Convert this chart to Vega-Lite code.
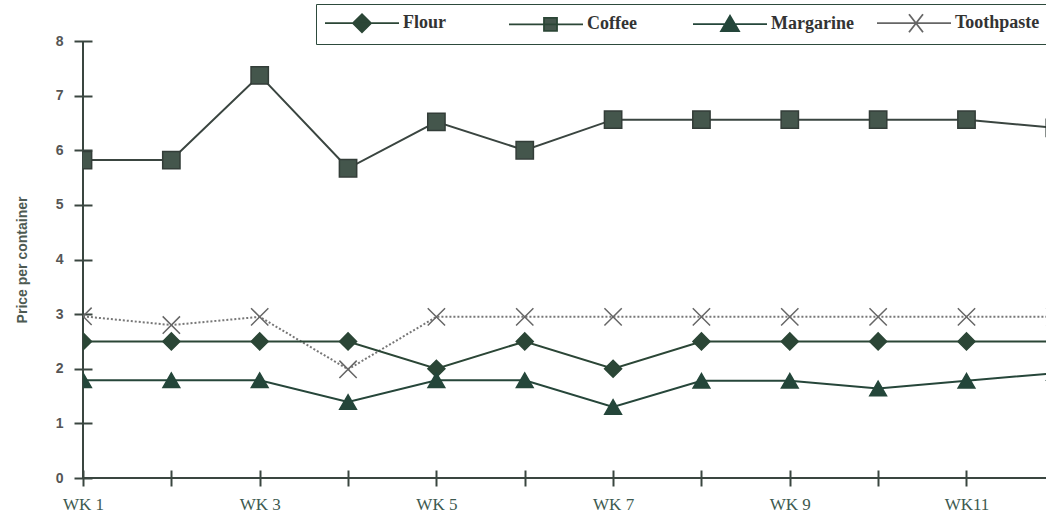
{
  "$schema": "https://vega.github.io/schema/vega-lite/v6.json",
  "width": 963,
  "height": 437,
  "autosize": {"type": "none"},
  "padding": {"left": 83, "top": 41, "right": 0, "bottom": 44},
  "background": "white",
  "config": {"view": {"stroke": null}},
  "data": {
    "values": [
      {"week": 1, "item": "Flour", "price": 2.5},
      {"week": 2, "item": "Flour", "price": 2.5},
      {"week": 3, "item": "Flour", "price": 2.5},
      {"week": 4, "item": "Flour", "price": 2.5},
      {"week": 5, "item": "Flour", "price": 2.0},
      {"week": 6, "item": "Flour", "price": 2.5},
      {"week": 7, "item": "Flour", "price": 2.0},
      {"week": 8, "item": "Flour", "price": 2.5},
      {"week": 9, "item": "Flour", "price": 2.5},
      {"week": 10, "item": "Flour", "price": 2.5},
      {"week": 11, "item": "Flour", "price": 2.5},
      {"week": 12, "item": "Flour", "price": 2.5},
      {"week": 1, "item": "Coffee", "price": 5.82},
      {"week": 2, "item": "Coffee", "price": 5.82},
      {"week": 3, "item": "Coffee", "price": 7.37},
      {"week": 4, "item": "Coffee", "price": 5.67},
      {"week": 5, "item": "Coffee", "price": 6.52},
      {"week": 6, "item": "Coffee", "price": 6.0},
      {"week": 7, "item": "Coffee", "price": 6.56},
      {"week": 8, "item": "Coffee", "price": 6.56},
      {"week": 9, "item": "Coffee", "price": 6.56},
      {"week": 10, "item": "Coffee", "price": 6.56},
      {"week": 11, "item": "Coffee", "price": 6.56},
      {"week": 12, "item": "Coffee", "price": 6.41},
      {"week": 1, "item": "Margarine", "price": 1.79},
      {"week": 2, "item": "Margarine", "price": 1.79},
      {"week": 3, "item": "Margarine", "price": 1.79},
      {"week": 4, "item": "Margarine", "price": 1.39},
      {"week": 5, "item": "Margarine", "price": 1.79},
      {"week": 6, "item": "Margarine", "price": 1.79},
      {"week": 7, "item": "Margarine", "price": 1.3},
      {"week": 8, "item": "Margarine", "price": 1.78},
      {"week": 9, "item": "Margarine", "price": 1.78},
      {"week": 10, "item": "Margarine", "price": 1.64},
      {"week": 11, "item": "Margarine", "price": 1.78},
      {"week": 12, "item": "Margarine", "price": 1.92},
      {"week": 1, "item": "Toothpaste", "price": 2.96},
      {"week": 2, "item": "Toothpaste", "price": 2.8},
      {"week": 3, "item": "Toothpaste", "price": 2.95},
      {"week": 4, "item": "Toothpaste", "price": 1.99},
      {"week": 5, "item": "Toothpaste", "price": 2.95},
      {"week": 6, "item": "Toothpaste", "price": 2.95},
      {"week": 7, "item": "Toothpaste", "price": 2.95},
      {"week": 8, "item": "Toothpaste", "price": 2.95},
      {"week": 9, "item": "Toothpaste", "price": 2.95},
      {"week": 10, "item": "Toothpaste", "price": 2.95},
      {"week": 11, "item": "Toothpaste", "price": 2.95},
      {"week": 12, "item": "Toothpaste", "price": 2.95}
    ]
  },
  "layer": [
    {
      "data": {"values": [{}]},
      "mark": {"type": "rule", "color": "#3a4640", "strokeWidth": 2},
      "encoding": {
        "x": {
          "datum": 1,
          "type": "quantitative",
          "scale": {"domain": [1, 11.9], "nice": false, "zero": false},
          "axis": {
            "values": [1, 2, 3, 4, 5, 6, 7, 8, 9, 10, 11],
            "domain": false,
            "grid": false,
            "tickSize": 16,
            "offset": -8,
            "tickColor": "#3a4640",
            "tickWidth": 2,
            "labelExpr": "datum.value % 2 == 1 ? (datum.value < 10 ? 'WK ' + datum.value : 'WK' + datum.value) : ''",
            "labelFont": "Liberation Serif",
            "labelFontSize": 17,
            "labelColor": "#3d5a50",
            "labelPadding": 10,
            "labelAngle": 0,
            "labelOverlap": false,
            "labelBound": false,
            "labelFlush": false,
            "title": null
          }
        },
        "y": {
          "datum": 0,
          "type": "quantitative",
          "scale": {"domain": [0, 8], "nice": false},
          "axis": {
            "values": [0, 1, 2, 3, 4, 5, 6, 7, 8],
            "domain": false,
            "grid": false,
            "tickSize": 18,
            "offset": -9,
            "tickColor": "#3a4640",
            "tickWidth": 2,
            "labelFont": "Liberation Sans",
            "labelFontWeight": "bold",
            "labelFontSize": 14,
            "labelColor": "#555555",
            "labelPadding": 11,
            "labelFlush": false,
            "title": "Price per container",
            "titleFont": "Liberation Sans",
            "titleFontWeight": "bold",
            "titleFontSize": 14,
            "titleColor": "#4d5a52",
            "titlePadding": 26
          }
        },
        "y2": {"datum": 8}
      }
    },
    {
      "data": {"values": [{}]},
      "mark": {"type": "rule", "color": "#3a4640", "strokeWidth": 2},
      "encoding": {
        "y": {"datum": 0, "type": "quantitative"},
        "x": {"datum": 1, "type": "quantitative"},
        "x2": {"datum": 11.9}
      }
    },
    {
      "transform": [{"filter": "datum.item === 'Toothpaste'"}],
      "mark": {"type": "line", "clip": true, "stroke": "#777777", "strokeWidth": 2, "strokeDash": [2, 2]},
      "encoding": {
        "x": {"field": "week", "type": "quantitative"},
        "y": {"field": "price", "type": "quantitative"}
      }
    },
    {
      "transform": [{"filter": "datum.item === 'Coffee'"}],
      "mark": {"type": "line", "clip": true, "stroke": "#3a4540", "strokeWidth": 2},
      "encoding": {
        "x": {"field": "week", "type": "quantitative"},
        "y": {"field": "price", "type": "quantitative"}
      }
    },
    {
      "transform": [{"filter": "datum.item === 'Flour'"}],
      "mark": {"type": "line", "clip": true, "stroke": "#2b4636", "strokeWidth": 2},
      "encoding": {
        "x": {"field": "week", "type": "quantitative"},
        "y": {"field": "price", "type": "quantitative"}
      }
    },
    {
      "transform": [{"filter": "datum.item === 'Margarine'"}],
      "mark": {"type": "line", "clip": true, "stroke": "#26463a", "strokeWidth": 2},
      "encoding": {
        "x": {"field": "week", "type": "quantitative"},
        "y": {"field": "price", "type": "quantitative"}
      }
    },
    {
      "transform": [{"filter": "datum.item === 'Toothpaste'"}],
      "mark": {"type": "point", "clip": true, "shape": "M-1,-1L1,1M-1,1L1,-1", "size": 300, "filled": false, "stroke": "#666666", "strokeWidth": 1.5, "opacity": 1},
      "encoding": {
        "x": {"field": "week", "type": "quantitative"},
        "y": {"field": "price", "type": "quantitative"}
      }
    },
    {
      "transform": [{"filter": "datum.item === 'Coffee'"}],
      "mark": {"type": "point", "clip": true, "shape": "square", "size": 300, "fill": "#44564c", "stroke": "#333d38", "strokeWidth": 1.5, "opacity": 1},
      "encoding": {
        "x": {"field": "week", "type": "quantitative"},
        "y": {"field": "price", "type": "quantitative"}
      }
    },
    {
      "transform": [{"filter": "datum.item === 'Flour'"}],
      "mark": {"type": "point", "clip": true, "shape": "diamond", "size": 290, "fill": "#2b4636", "stroke": "#2b4636", "strokeWidth": 1.5, "opacity": 1},
      "encoding": {
        "x": {"field": "week", "type": "quantitative"},
        "y": {"field": "price", "type": "quantitative"}
      }
    },
    {
      "transform": [{"filter": "datum.item === 'Margarine'"}],
      "mark": {"type": "point", "clip": true, "shape": "triangle-up", "size": 280, "fill": "#24463a", "stroke": "#24463a", "strokeWidth": 1.5, "opacity": 1},
      "encoding": {
        "x": {"field": "week", "type": "quantitative"},
        "y": {"field": "price", "type": "quantitative"}
      }
    },
    {
      "transform": [{"filter": "false"}],
      "mark": {"type": "point", "strokeWidth": 1.5, "opacity": 1},
      "encoding": {
        "x": {"field": "week", "type": "quantitative"},
        "y": {"field": "price", "type": "quantitative"},
        "fill": {
          "field": "item",
          "type": "nominal",
          "scale": {
            "domain": ["Flour", "Coffee", "Margarine", "Toothpaste"],
            "range": ["#2b4636", "#44564c", "#24463a", "transparent"]
          }
        },
        "stroke": {
          "field": "item",
          "type": "nominal",
          "scale": {
            "domain": ["Flour", "Coffee", "Margarine", "Toothpaste"],
            "range": ["#2b4636", "#2b4636", "#24463a", "#666666"]
          }
        },
        "shape": {
          "field": "item",
          "type": "nominal",
          "scale": {
            "domain": ["Flour", "Coffee", "Margarine", "Toothpaste"],
            "range": [
              "M-3.7,0H3.7M-0.9,0L0,-0.9L0.9,0L0,0.9Z",
              "M-3.7,0H3.7M-0.2,-0.65H1.1V0.65H-0.2Z",
              "M-3.7,0H3.7M-0.9,0.7L0,-0.85L0.9,0.7Z",
              "M-3.7,0H3.7M-0.5,-0.9L0.9,0.9M-0.5,0.9L0.9,-0.9"
            ]
          },
          "legend": {
            "orient": "none",
            "legendX": 233,
            "legendY": -37,
            "direction": "horizontal",
            "columns": 4,
            "title": null,
            "symbolSize": 400,
            "symbolOffset": 27,
            "labelOffset": 30,
            "gridAlign": "all",
            "columnPadding": 17,
            "padding": 8,
            "strokeColor": "#2d4a3c",
            "fillColor": "white",
            "labelFont": "Liberation Serif",
            "labelFontWeight": "bold",
            "labelFontSize": 18,
            "labelColor": "#333333",
            "labelLimit": 0,
            "symbolStrokeWidth": 1.8,
            "symbolOpacity": 1
          }
        }
      }
    }
  ]
}
